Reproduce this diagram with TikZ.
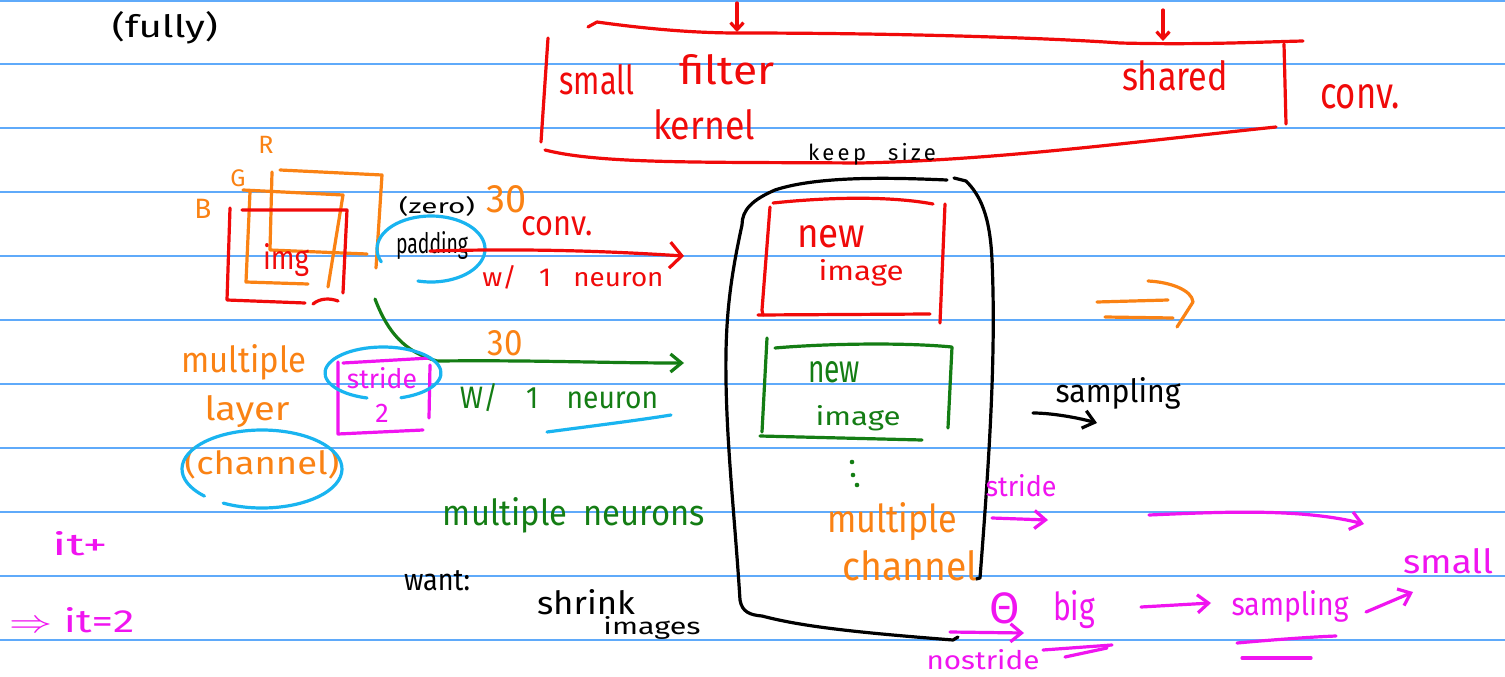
\documentclass[tikz,border=0pt]{standalone}
\usepackage{fontspec}
\setmainfont{Fira Sans}
\usetikzlibrary{arrows.meta}
\definecolor{rulecol}{RGB}{95,170,250}
\definecolor{hred}{RGB}{240,10,10}
\definecolor{horange}{RGB}{250,130,20}
\definecolor{hgreen}{RGB}{20,125,20}
\definecolor{hmag}{RGB}{240,20,240}
\definecolor{hcyan}{RGB}{25,180,240}
\newcommand\fw[2]{\resizebox{#1pt}{!}{#2}}
\newcommand\fwh[3]{\resizebox{#1pt}{#2pt}{#3}}
\tikzset{
  pen/.style={line width=3.2pt, line cap=round, line join=round},
  lbl/.style={inner sep=0pt, anchor=center},
  tip/.style={-{Straight Barb[length=11pt,width=18pt]}},
  smalltip/.style={-{Straight Barb[length=7pt,width=13pt]}},
  rulestyle/.style={rulecol, line width=1.6pt},
}
\begin{document}
\begin{tikzpicture}[x=1pt,y=-1pt]
\useasboundingbox (0,0) rectangle (1505,677);
\fill[white] (0,0) rectangle (1505,677);
\foreach \yy in {1,64,128,192,256,320,384,448,512,576,640}
  \draw[rulestyle] (0,\yy) -- (1505,\yy);

% ---------- top red bracket ----------
\draw[pen,hred] (588,27) -- (597,22) .. controls (640,28) and (690,33) .. (737,33)
  .. controls (900,33) and (1050,38) .. (1120,43) .. controls (1200,45) and (1260,42) .. (1303,41);
\draw[pen,hred] (548,38) -- (541,142);
\draw[pen,hred] (545,150) .. controls (600,164) and (700,162) .. (860,163)
  .. controls (1000,160) and (1150,140) .. (1276,127);
\draw[pen,hred] (1284,44) -- (1286,124);
\coordinate (arrA0) at (737,3); \coordinate (arrA1) at (737,32);
\coordinate (arrB0) at (1163,10); \coordinate (arrB1) at (1163,41);
\draw[pen,hred,smalltip] (arrA0) -- (arrA1);
\draw[pen,hred,smalltip] (arrB0) -- (arrB1);

\node[lbl] (fully) at (165,28) {\fwh{106}{26}{(fully)}};
\node[lbl,hred] (small) at (597,80) {\fwh{75}{30}{small}};
\node[lbl,hred] (filter) at (727,70) {\fwh{95}{30}{filter}};
\node[lbl,hred] (kernel) at (704,125) {\fwh{102}{30}{kernel}};
\node[lbl,hred] (shared) at (1175,76) {\fwh{106}{30}{shared}};
\node[lbl,hred] (convtop) at (1360,97) {\fwh{80}{24}{conv.}};
\node[lbl] (keep) at (872,154) {\fontsize{22}{22}\selectfont\addfontfeature{LetterSpace=15}keep\quad size};

% ---------- RGB image ----------
\node[lbl,horange,font=\fontsize{25}{25}\selectfont] (R) at (266,145) {R};
\node[lbl,horange,font=\fontsize{24}{24}\selectfont] (G) at (238,178) {G};
\node[lbl,horange,font=\fontsize{28}{28}\selectfont] (B) at (203,209) {B};
\draw[pen,horange] (280,170) -- (382,175) -- (376,268);
\draw[pen,horange] (272,172) -- (270,250) -- (367,254);
\draw[pen,horange] (243,190) -- (343,195) -- (328,287);
\draw[pen,horange] (250,192) -- (246,282) -- (308,284);
\draw[pen,hred] (242,210) -- (347,210) -- (343,293);
\draw[pen,hred] (230,208) -- (227,300) -- (305,303);
\draw[pen,hred] (313,304) .. controls (320,298) and (330,298) .. (338,301);
\node[lbl,hred] (img) at (286,260) {\fwh{46}{26}{img}};

% ---------- padding / conv ----------
\node[lbl] (zero) at (437,206) {\fwh{76}{17}{(zero)}};
\node[lbl] (padding) at (432,246) {\fwh{72}{22}{padding}};
\draw[pen,hcyan] ([shift={(157:54 and 33)}]431,249) arc[start angle=157,end angle=464,x radius=54,y radius=33];
\node[lbl,horange] (thirtyA) at (507,199) {\fwh{40}{27}{30}};
\node[lbl,hred] (convA) at (557,226) {\fwh{71}{19}{conv.}};
\coordinate (convS) at (430,251); \coordinate (convE) at (684,256);
\draw[pen,hred,-{Straight Barb[length=12pt,width=26pt]}] (convS) .. controls (540,248) and (620,252) .. (convE);
\node[lbl,hred] (neuronA) at (573,277) {\fwh{181}{21}{w/\hspace{0.8em}1\hspace{0.8em}neuron}};

% ---------- stride branch ----------
\coordinate (gS) at (375,299); \coordinate (gM) at (437,361); \coordinate (gE) at (684,363);
\draw[pen,hgreen,tip] (gS) .. controls (388,333) and (405,352) .. (gM) .. controls (540,360) and (600,363) .. (gE);
\node[lbl,horange] (thirtyB) at (505,343) {\fwh{35}{25}{30}};
\node[lbl,hgreen] (neuronB) at (559,398) {\fwh{198}{25}{W/\hspace{1em}1\hspace{1em}neuron}};
\draw[pen,hcyan] (547,432) .. controls (600,425) and (640,420) .. (671,415);
\draw[pen,hmag] (343,363) -- (430,358);
\draw[pen,hmag] (338,362) -- (338,434) -- (423,430);
\draw[pen,hmag] (430,365) -- (429,418);
\node[lbl,hmag] (strideA) at (382,378) {\fwh{70}{21}{stride}};
\node[lbl,hmag,font=\fontsize{27}{27}\selectfont] (two) at (382,413) {2};
\draw[pen,hcyan] ([shift={(106:58 and 26)}]383,373) arc[start angle=106,end angle=432,x radius=58,y radius=26];

% ---------- multiple layer ----------
\node[lbl,horange] (multA) at (244,362) {\fwh{125}{28}{multiple}};
\node[lbl,horange] (layer) at (247,412) {\fwh{85}{25}{layer}};
\node[lbl,horange] (channelA) at (262,463) {\fwh{155}{27}{(channel)}};
\draw[pen,hcyan] ([shift={(136:80 and 39)}]262,469) arc[start angle=136,end angle=479,x radius=80,y radius=39];

\node[lbl,hgreen] (multN) at (574,515) {\fwh{262}{28}{multiple\hspace{0.5em}neurons}};
\node[lbl,hmag] (itp) at (80,544) {\fwh{55}{24}{it+}};
\node[lbl,hmag] (it2) at (72,620) {\fwh{125}{25}{$\Rightarrow$ it=2}};
\node[lbl] (want) at (437,581) {\fwh{66}{20}{want:}};
\node[lbl] (shrink) at (586,602) {\fwh{98}{25}{shrink}};
\node[lbl] (images) at (652,628) {\fwh{97}{18}{images}};

% ---------- big black box ----------
\draw[pen] (947,180) .. controls (900,178) and (820,175) .. (775,190)
  .. controls (752,200) and (742,210) .. (742,225)
  .. controls (730,280) and (725,320) .. (726,380)
  .. controls (727,450) and (735,520) .. (740,600)
  .. controls (742,612) and (750,615) .. (762,616)
  .. controls (800,626) and (850,632) .. (953,640) -- (958,637);
\draw[pen] (954,178) -- (966,181) .. controls (980,195) and (990,215) .. (992,260)
  .. controls (996,350) and (990,450) .. (980,578) -- (976,579);
\draw[pen,hred] (773,203) .. controls (830,197) and (890,196) .. (933,204);
\draw[pen,hred] (945,204) -- (940,323);
\draw[pen,hred] (770,207) -- (762,310) -- (763,315);
\draw[pen,hred] (758,315) -- (930,314);
\node[lbl,hred] (newA) at (831,237) {\fwh{68}{22}{new}};
\node[lbl,hred] (imageA) at (861,273) {\fwh{85}{21}{image}};
\draw[pen,hgreen] (775,348) .. controls (820,344) and (900,342) .. (952,347) -- (948,428);
\draw[pen,hgreen] (767,338) -- (762,432);
\draw[pen,hgreen] (760,436) -- (922,440);
\node[lbl,hgreen] (newB) at (834,372) {\fwh{52}{21}{new}};
\node[lbl,hgreen] (imageB) at (858,418) {\fwh{85}{20}{image}};
\fill[hgreen] (852,462) circle (2.3) (853,475) circle (2.3) (857,485) circle (2.3);
\node[lbl,horange] (multC) at (892,522) {\fwh{130}{30}{multiple}};
\node[lbl,horange] (channelC) at (910,566) {\fwh{135}{30}{channel}};

% ---------- right side ----------
\draw[pen,horange] (1097,302) -- (1168,300);
\draw[pen,horange] (1105,317) -- (1173,318);
\draw[pen,horange] (1148,281) .. controls (1170,282) and (1192,290) .. (1193,302)
  -- (1177,327);
\node[lbl] (samplingA) at (1118,393) {\fwh{125}{25}{sampling}};
\coordinate (sbS) at (1033,413); \coordinate (sbE) at (1097,423);
\draw[pen,tip] (sbS) .. controls (1050,413) and (1075,417) .. (sbE);

\node[lbl,hmag] (strideB) at (1021,486) {\fwh{71}{22}{stride}};
\coordinate (s1S) at (992,518); \coordinate (s1E) at (1048,520);
\draw[pen,hmag,tip] (s1S) -- (s1E);
\coordinate (s2S) at (1149,515); \coordinate (s2E) at (1364,524);
\draw[pen,hmag,tip] (s2S) .. controls (1220,512) and (1300,508) .. (s2E);

\node[lbl,hmag,font=\fontsize{44}{44}\selectfont] (theta) at (1005,608) {Θ};
\node[lbl,hmag] (big) at (1074,610) {\fwh{42}{30}{big}};
\node[lbl,hmag] (samplingB) at (1290,606) {\fwh{117}{25}{sampling}};
\node[lbl,hmag] (smallB) at (1448,561) {\fwh{90}{25}{small}};
\node[lbl,hmag] (nostride) at (983,660) {\fwh{113}{20}{nostride}};
\coordinate (nsS) at (950,632); \coordinate (nsE) at (1024,633);
\draw[pen,hmag,tip] (nsS) -- (nsE);
\coordinate (bgS) at (1141,607); \coordinate (bgE) at (1211,603);
\draw[pen,hmag,tip] (bgS) -- (bgE);
\coordinate (spS) at (1366,612); \coordinate (spE) at (1413,592);
\draw[pen,hmag,tip] (spS) -- (spE);
\draw[pen,hmag] (1237,643) .. controls (1270,640) and (1310,637) .. (1336,636);
\draw[pen,hmag] (1242,658) -- (1311,658);
\draw[pen,hmag] (1043,650) -- (1112,645);
\draw[pen,hmag] (1065,657) -- (1107,648);
\end{tikzpicture}
\end{document}
